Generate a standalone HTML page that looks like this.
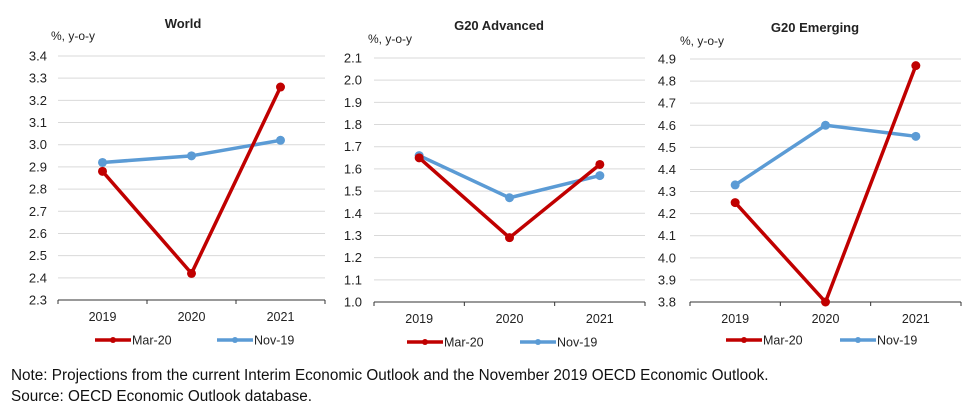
<!DOCTYPE html>
<html><head><meta charset="utf-8"><style>
body{margin:0;background:#fff;width:976px;height:412px;overflow:hidden;font-family:"Liberation Sans",Arial,sans-serif}
svg text{font-family:"Liberation Sans",Arial,sans-serif;fill:#222}
.note{position:absolute;left:11px;font-size:15.3px;color:#111}
</style></head><body>
<svg id="c" width="976" height="412" style="position:absolute;left:0;top:0"></svg>
<div class="note" style="top:367px">Note: Projections from the current Interim Economic Outlook and the November 2019 OECD Economic Outlook.</div>
<div class="note" style="top:388px">Source: OECD Economic Outlook database.</div>
<script>
const categories=["2019","2020","2021"];
const worldMar=[2.88,2.42,3.26];
const worldNov=[2.92,2.95,3.02];
const advMar=[1.65,1.29,1.62];
const advNov=[1.66,1.47,1.57];
const emgMar=[4.25,3.80,4.87];
const emgNov=[4.33,4.60,4.55];
const worldTicks=[2.3,2.4,2.5,2.6,2.7,2.8,2.9,3.0,3.1,3.2,3.3,3.4];
const advTicks=[1.0,1.1,1.2,1.3,1.4,1.5,1.6,1.7,1.8,1.9,2.0,2.1];
const emgTicks=[3.8,3.9,4.0,4.1,4.2,4.3,4.4,4.5,4.6,4.7,4.8,4.9];
const NS="http://www.w3.org/2000/svg";
const svg=document.getElementById('c');
function mk(t,a,p){const e=document.createElementNS(NS,t);for(const k in a)e.setAttribute(k,a[k]);(p||svg).appendChild(e);return e;}
function panel(name,title,ticks,mar,nov,g){
  const grp=mk('g',{});
  
  
  const lo=ticks[0],hi=ticks[ticks.length-1];
  const y=v=>g.yb-(v-lo)/(hi-lo)*(g.yb-g.yt);
  const bw=(g.x1-g.x0)/categories.length;
  const x=i=>g.x0+bw*(i+0.5);
  const t=mk('text',{x:g.tx,y:g.ty,'text-anchor':'middle','font-size':13,'font-weight':'bold'},grp);t.textContent=title;
  
  
  const u=mk('text',{x:g.ux,y:g.uy,'font-size':12},grp);u.textContent='%, y-o-y';
  
  
  ticks.forEach(v=>{
    const yy=y(v);
    if(v!==lo){const l=mk('line',{x1:g.x0,x2:g.x1,y1:yy,y2:yy,stroke:'#d9d9d9','stroke-width':1},grp);
      
      }
    const tl=mk('text',{x:g.lx,y:yy+4.5,'text-anchor':'end','font-size':13},grp);tl.textContent=v.toFixed(1);
    
    
  });
  const ax=mk('line',{x1:g.x0,x2:g.x1,y1:g.yb,y2:g.yb,stroke:'#333','stroke-width':1},grp);
  
  
  for(let i=0;i<=categories.length;i++){mk('line',{x1:g.x0+bw*i,x2:g.x0+bw*i,y1:g.yb,y2:g.yb+4,stroke:'#333'},grp);}
  categories.forEach((c,i)=>{const tl=mk('text',{x:x(i),y:g.yb+21,'text-anchor':'middle','font-size':12.5},grp);tl.textContent=c;
    
    });
  [[nov,'#5b9bd5','nov-19'],[mar,'#c00000','mar-20']].forEach(([d,col,sn])=>{
    const p=mk('polyline',{points:d.map((v,i)=>x(i)+','+y(v)).join(' '),fill:'none',stroke:col,'stroke-width':3.5,'stroke-linejoin':'round'},grp);
    
    
    d.forEach((v,i)=>{const c=mk('circle',{cx:x(i),cy:y(v),r:4.5,fill:col},grp);
      
      });
  });
  [[g.lg1,'#c00000','Mar-20'],[g.lg2,'#5b9bd5','Nov-19']].forEach(([lx,col,lab])=>{
    const lg=mk('g',{},grp);
    
    
    mk('line',{x1:lx,x2:lx+36,y1:g.ly,y2:g.ly,stroke:col,'stroke-width':3.5},lg);
    mk('circle',{cx:lx+18,cy:g.ly,r:3,fill:col},lg);
    const tt=mk('text',{x:lx+37,y:g.ly+4.5,'font-size':12.5},lg);tt.textContent=lab;
  });
}
panel('world','World',worldTicks,worldMar,worldNov,{x0:58,x1:325,yt:56,yb:300,tx:183,ty:28,ux:51,uy:40,lx:47,ly:340,lg1:95,lg2:217});
panel('g20-advanced','G20 Advanced',advTicks,advMar,advNov,{x0:374,x1:645,yt:58,yb:302,tx:499,ty:30,ux:368,uy:43,lx:362,ly:342,lg1:407,lg2:520});
panel('g20-emerging','G20 Emerging',emgTicks,emgMar,emgNov,{x0:690,x1:961,yt:59,yb:302,tx:815,ty:32,ux:680,uy:45,lx:676,ly:340,lg1:726,lg2:840});
</script>
</body></html>
